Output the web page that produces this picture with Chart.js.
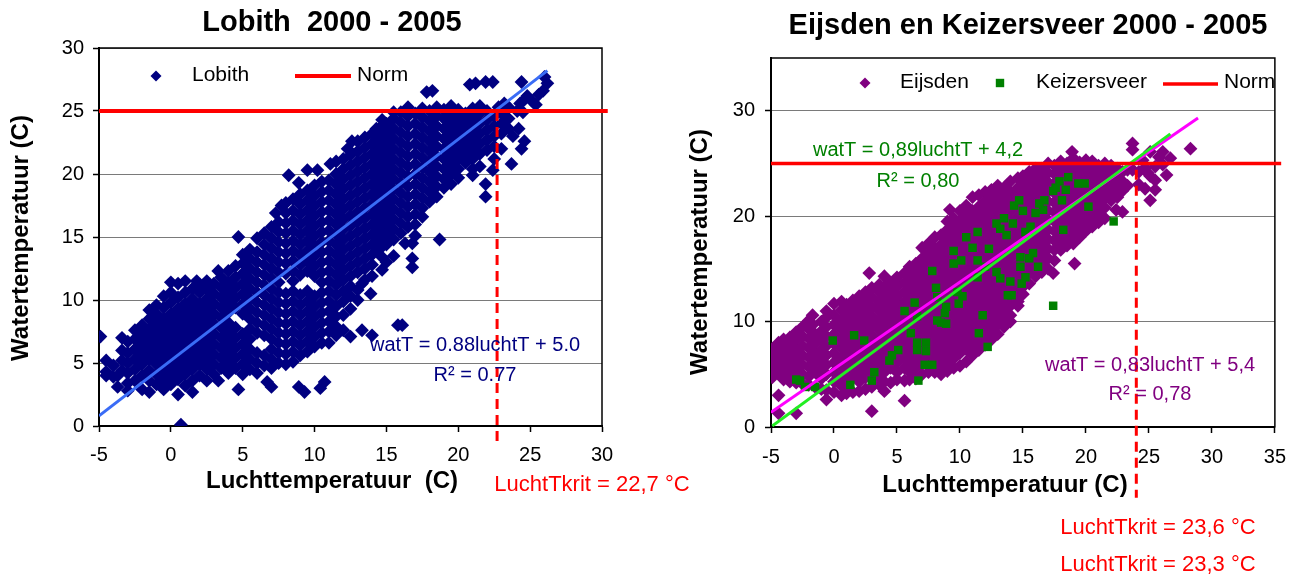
<!DOCTYPE html>
<html>
<head>
<meta charset="utf-8">
<title>Lobith / Eijsden en Keizersveer 2000 - 2005</title>
<script src="https://cdn.jsdelivr.net/npm/chart.js@4.4.1/dist/chart.umd.min.js"></script>
<style>
  html, body { margin: 0; padding: 0; background: #fff; }
  #wrap { position: relative; width: 1298px; height: 583px; overflow: hidden; }
  #lobithChart { position: absolute; left: 0; top: 0; }
  #maasChart { position: absolute; left: 649px; top: 0; }
</style>
</head>
<body>
<div id="wrap">
  <canvas id="lobithChart" width="720" height="583"></canvas>
  <canvas id="maasChart" width="649" height="583"></canvas>
</div>
<script>
// ---- axis ticks ----
const lobithXTicks = [-5, 0, 5, 10, 15, 20, 25, 30];
const lobithYTicks = [0, 5, 10, 15, 20, 25, 30];
const maasXTicks = [-5, 0, 5, 10, 15, 20, 25, 30, 35];
const maasYTicks = [0, 10, 20, 30];
const maasYMax = 35;

// ---- norm, trend lines and critical air temperature ----
const normTemp = 25;
const lobithNormX = [-5, 30.4];
const maasNormX = [-5, 35.5];
const lobithTrend = [[-5, 0.8], [26.2, 28.2]];
const eijsdenTrend = [[-5, 1.4], [28.9, 29.3]];
const keizersTrend = [[-4.9, 0.1], [26.7, 27.8]];
const lobithKrit = [[22.7, 25], [22.7, -1.5]];
const maasKrit = [[24.0, 24.4], [24.0, -6.7]];

// ---- Lobith: [luchtT, watT, watT, ...] columns ----
const lobith = [
  [-4.9, 7.1], [-4.5, 4.0, 4.3, 5.2], [-4.0, 3.9, 4.8], [-3.7, 3.1, 4.0],
  [-3.4, 4.4, 5.2, 6.0, 7.0],
  [-3.0, 2.8, 3.4, 4.2, 5.0, 5.8, 6.7],
  [-2.5, 3.6, 4.5, 5.3, 6.1, 6.9, 7.6],
  [-2.0, 2.9, 4.0, 4.9, 5.7, 6.5, 7.3, 8.0],
  [-1.5, 2.7, 3.6, 4.4, 5.3, 6.1, 6.9, 7.7, 8.5, 9.2],
  [-1.0, 3.3, 4.1, 4.9, 5.7, 6.5, 7.3, 8.1, 8.9, 9.6],
  [-0.5, 2.9, 3.7, 4.5, 5.3, 6.1, 6.9, 7.7, 8.5, 9.4, 10.3],
  [0.0, 3.3, 4.1, 4.9, 5.7, 6.5, 7.3, 8.1, 8.9, 9.8, 10.6, 11.4],
  [0.5, 2.5, 3.7, 4.5, 5.3, 6.1, 6.9, 7.7, 8.5, 9.3, 10.2, 11.3],
  [0.7, 0.1],
  [1.0, 3.2, 4.1, 4.9, 5.7, 6.5, 7.3, 8.1, 8.9, 9.7, 10.6, 11.5],
  [1.5, 2.7, 3.6, 4.5, 5.3, 6.1, 6.9, 7.7, 8.5, 9.3, 10.1, 10.9],
  [1.8, 11.5],
  [2.0, 4.0, 4.9, 5.7, 6.5, 7.3, 8.1, 8.9, 9.7, 10.6, 11.2],
  [2.5, 3.6, 4.5, 5.3, 6.1, 6.9, 7.7, 8.5, 9.3, 10.1, 10.9, 11.5],
  [3.0, 4.1, 4.9, 5.7, 6.5, 7.3, 8.1, 8.9, 9.7, 10.5, 11.3],
  [3.3, 3.6, 12.3],
  [3.5, 4.6, 5.4, 6.2, 7.0, 7.8, 8.6, 9.4, 10.2, 11.0, 11.8],
  [4.0, 4.2, 5.0, 5.8, 6.6, 7.4, 8.2, 9.0, 9.8, 10.6, 11.4, 12.3],
  [4.5, 4.6, 5.4, 6.2, 7.0, 7.8, 9.4, 10.2, 11.0, 11.8, 12.7],
  [4.7, 2.9, 15.0],
  [5.0, 4.1, 4.9, 5.7, 6.5, 7.3, 8.9, 9.7, 10.5, 11.3, 12.1, 12.9, 13.6],
  [5.5, 4.5, 5.3, 6.1, 6.9, 7.7, 8.5, 9.3, 10.1, 10.9, 11.7, 12.5, 13.3, 14.0],
  [6.0, 4.2, 5.0, 5.8, 7.4, 8.2, 9.0, 9.8, 10.6, 11.4, 12.2, 13.0, 13.8, 14.9],
  [6.5, 4.8, 5.6, 7.2, 8.0, 8.8, 9.6, 10.4, 11.2, 12.0, 12.8, 13.6, 14.4, 15.3],
  [6.7, 3.5],
  [7.0, 3.1, 4.6, 5.3, 6.1, 6.9, 7.7, 8.5, 9.3, 10.1, 10.9, 11.7, 12.5, 13.3, 14.1, 14.9, 15.8],
  [7.3, 16.9],
  [7.5, 5.0, 5.8, 6.6, 7.4, 8.2, 9.0, 9.8, 10.6, 11.4, 12.2, 13.0, 13.8, 14.6, 15.4, 16.2],
  [7.7, 17.5],
  [8.0, 4.9, 5.7, 6.5, 7.3, 8.1, 8.9, 9.7, 10.5, 12.1, 12.9, 13.7, 14.5, 15.3, 16.1, 16.9, 17.7],
  [8.2, 19.9],
  [8.5, 5.1, 5.9, 6.7, 7.5, 8.3, 9.1, 9.9, 10.7, 11.5, 12.3, 13.1, 13.9, 14.7, 15.5, 16.3, 17.1, 18.0],
  [8.9, 3.1, 19.3],
  [9.0, 5.6, 6.4, 7.2, 8.0, 8.8, 9.6, 10.4, 12.0, 12.8, 13.6, 14.4, 15.2, 16.0, 16.8, 17.6, 18.4],
  [9.3, 2.7],
  [9.5, 5.9, 6.7, 7.5, 8.3, 9.1, 9.9, 10.7, 12.3, 13.1, 13.9, 14.7, 15.5, 16.3, 17.1, 17.9, 18.7, 20.3],
  [10.0, 6.3, 7.1, 7.9, 8.7, 9.5, 10.3, 11.9, 12.7, 13.5, 14.3, 15.1, 15.9, 16.7, 17.5, 18.3, 19.1],
  [10.2, 20.3], [10.4, 3.0],
  [10.5, 6.6, 7.4, 8.2, 9.0, 9.8, 10.6, 11.4, 12.2, 13.0, 13.8, 14.6, 15.4, 16.2, 17.0, 17.8, 18.6, 19.4],
  [10.7, 3.5],
  [11.0, 6.6, 7.5, 8.3, 9.1, 9.9, 10.7, 11.5, 12.3, 13.1, 13.9, 14.7, 15.5, 16.3, 17.1, 17.9, 18.7, 19.5],
  [11.1, 20.8],
  [11.5, 7.2, 7.9, 8.7, 9.5, 10.4, 11.2, 12.0, 12.8, 13.6, 14.4, 15.2, 16.0, 16.8, 17.6, 18.4, 19.2, 20.0, 21.0],
  [12.0, 7.6, 8.8, 9.9, 10.7, 11.6, 12.4, 13.2, 14.0, 14.8, 15.6, 16.4, 17.2, 18.0, 18.8, 19.6, 20.4, 21.2],
  [12.3, 22.0],
  [12.5, 7.1, 9.3, 10.3, 11.1, 11.9, 12.7, 13.5, 14.3, 15.1, 15.9, 16.7, 17.5, 18.3, 19.1, 19.9, 20.7, 21.5],
  [12.6, 22.6],
  [13.0, 10.0, 10.8, 12.2, 13.0, 13.8, 14.6, 15.4, 16.2, 17.0, 17.8, 18.6, 19.4, 20.2, 21.0, 21.8, 22.6],
  [13.3, 7.6, 11.3],
  [13.5, 11.6, 12.5, 13.3, 14.1, 14.9, 15.7, 16.5, 17.3, 18.1, 18.9, 19.7, 20.5, 21.3, 22.1, 22.9],
  [13.9, 10.5],
  [14.0, 7.2, 11.9, 12.8, 13.6, 14.4, 15.2, 16.0, 16.8, 17.6, 18.4, 19.2, 20.0, 20.8, 21.6, 22.4, 23.2],
  [14.3, 23.6],
  [14.5, 14.0, 14.8, 15.6, 16.4, 17.2, 18.0, 18.8, 19.6, 20.4, 21.2, 22.0, 22.8, 23.6],
  [14.7, 12.4, 13.4, 24.3],
  [15.0, 13.0, 14.4, 15.2, 16.0, 16.8, 17.6, 18.4, 19.2, 20.0, 20.8, 21.6, 22.4, 23.2, 24.0],
  [15.5, 13.5, 14.8, 15.6, 16.4, 17.2, 18.0, 18.8, 19.6, 20.4, 21.2, 22.0, 22.8, 23.6, 24.4, 24.9],
  [15.8, 8.0],
  [16.0, 15.3, 16.1, 16.9, 17.7, 18.5, 19.3, 20.1, 20.9, 21.7, 22.5, 23.3, 24.1, 24.9],
  [16.1, 8.0], [16.3, 14.5],
  [16.5, 15.8, 16.6, 17.4, 18.2, 19.0, 19.8, 20.6, 21.4, 22.2, 23.0, 23.8, 24.6, 25.3],
  [16.8, 12.6, 13.3, 14.5],
  [17.0, 15.1, 16.0, 16.8, 17.6, 18.4, 19.2, 20.0, 20.8, 21.6, 22.4, 23.2, 24.0, 24.8],
  [17.5, 16.6, 17.3, 18.1, 18.9, 19.7, 20.5, 21.3, 22.1, 22.9, 23.7, 24.5, 25.2],
  [17.8, 26.5],
  [18.0, 17.8, 18.6, 19.4, 20.2, 21.0, 21.8, 22.6, 23.4, 24.2, 25.0],
  [18.2, 26.6],
  [18.5, 18.2, 19.0, 19.8, 20.6, 21.4, 22.2, 23.0, 23.8, 24.6, 25.3],
  [18.7, 14.8],
  [19.0, 18.9, 19.6, 20.4, 21.2, 22.0, 22.8, 23.6, 24.4, 25.1],
  [19.5, 19.2, 20.0, 20.8, 21.6, 22.4, 23.2, 24.0, 24.8, 25.4],
  [20.0, 19.7, 20.4, 21.2, 22.0, 22.8, 23.6, 24.4, 25.1],
  [20.5, 20.9, 21.6, 22.4, 23.2, 24.0, 24.8],
  [20.8, 27.1],
  [21.0, 19.9, 20.4, 21.2, 22.0, 22.8, 23.6, 24.4, 25.2],
  [21.2, 27.2],
  [21.5, 20.6, 21.6, 22.4, 23.2, 24.0, 24.8, 25.4],
  [21.9, 18.2, 19.2, 27.3],
  [22.0, 21.9, 22.7, 23.5, 24.3, 25.0],
  [22.4, 20.3, 27.3],
  [22.5, 21.2, 22.2, 23.0, 23.8, 24.6],
  [22.8, 25.3],
  [23.0, 22.0, 23.2, 24.0, 24.8],
  [23.2, 25.6], [23.5, 23.6, 24.4, 25.3], [23.7, 20.8], [23.8, 23.0],
  [24.1, 25.0], [24.2, 23.6], [24.3, 25.6], [24.4, 22.0, 27.3], [24.5, 24.9],
  [24.6, 22.6, 25.9], [24.8, 26.2], [25.2, 25.7], [25.4, 25.5], [25.6, 26.3],
  [25.9, 26.6], [26.0, 27.7], [26.2, 27.2]
];

// ---- Eijsden: [luchtT, watT, watT, ...] columns ----
const eijsden = [
  [-4.9, 4.7, 5.6, 6.5, 7.4],
  [-4.4, 1.3, 3.0, 5.1, 6.0, 6.9, 8.0],
  [-4.0, 4.5, 5.5, 6.4, 7.3, 8.3],
  [-3.5, 4.3, 5.0, 5.9, 6.8, 7.7, 8.5],
  [-3.0, 1.3, 4.2, 5.4, 6.3, 7.2, 8.3, 9.0],
  [-2.5, 4.1, 5.0, 5.9, 6.8, 7.7, 8.6, 9.5],
  [-2.0, 4.0, 4.8, 5.7, 6.6, 7.5, 8.4, 9.3, 10.1],
  [-1.7, 9.7, 10.6],
  [-1.5, 3.8, 5.2, 6.1, 7.0, 7.9, 8.8],
  [-1.0, 3.6, 4.6, 5.5, 6.4, 7.3, 8.2, 9.1, 10.0],
  [-0.6, 2.6, 3.5, 5.0, 5.9, 6.8, 7.7, 8.6, 9.5, 10.4, 11.0],
  [0.0, 3.3, 4.3, 5.2, 6.1, 7.0, 7.9, 8.8, 9.7, 10.6, 11.7],
  [0.6, 3.0, 3.9, 4.8, 5.7, 6.6, 7.5, 8.4, 9.3, 10.2, 11.1, 11.9],
  [1.0, 3.2, 4.4, 5.3, 6.2, 7.1, 8.0, 8.9, 9.8, 10.7, 11.6],
  [1.5, 3.3, 4.8, 5.7, 6.6, 7.5, 8.4, 9.3, 10.2, 11.1, 12.0],
  [2.0, 3.4, 4.3, 5.2, 6.1, 7.0, 7.9, 8.8, 9.7, 10.6, 11.5, 12.4],
  [2.5, 3.6, 4.7, 5.6, 6.5, 7.4, 8.3, 9.2, 10.1, 11.0, 11.9, 12.8],
  [2.8, 14.6],
  [3.0, 1.5, 3.8, 5.1, 6.0, 6.9, 7.8, 8.7, 9.6, 10.5, 11.4, 12.3, 13.2],
  [3.6, 4.0, 4.7, 5.6, 6.5, 7.4, 8.3, 9.2, 10.1, 11.0, 11.9, 12.8, 13.5],
  [4.0, 3.4, 4.3, 5.2, 6.1, 7.0, 7.9, 8.8, 9.7, 10.6, 11.5, 12.4, 13.3, 14.3],
  [4.5, 4.2, 5.6, 6.5, 7.4, 8.3, 9.2, 10.1, 11.0, 11.9, 12.8, 13.7],
  [5.0, 4.5, 5.2, 6.1, 7.0, 7.9, 8.8, 9.7, 10.6, 11.5, 12.4, 13.3, 14.2],
  [5.6, 2.5, 4.4, 5.6, 6.5, 7.4, 8.3, 9.2, 10.1, 11.0, 11.9, 12.8, 13.7, 14.6],
  [6.0, 4.5, 5.2, 6.1, 7.0, 7.9, 8.8, 9.7, 10.6, 11.5, 12.4, 13.3, 14.2, 15.2],
  [6.5, 4.6, 5.6, 6.5, 7.4, 8.3, 9.2, 10.1, 11.0, 11.9, 12.8, 13.7, 14.6, 15.5],
  [7.0, 5.0, 6.1, 7.0, 7.9, 8.8, 9.7, 10.6, 11.5, 12.4, 13.3, 14.2, 15.1, 16.0, 17.0],
  [7.5, 5.2, 6.5, 7.4, 8.3, 9.2, 10.1, 11.0, 11.9, 12.8, 13.7, 14.6, 15.5, 16.4, 17.4],
  [8.0, 5.2, 6.1, 7.0, 7.9, 8.8, 9.7, 10.6, 11.5, 12.4, 13.3, 14.2, 15.1, 16.0, 16.9, 18.0],
  [8.5, 5.0, 5.6, 6.5, 7.4, 8.3, 9.2, 10.1, 11.0, 11.9, 12.8, 13.7, 14.6, 15.5, 16.4, 17.3, 18.2],
  [9.0, 5.3, 6.1, 7.0, 7.9, 8.8, 9.7, 10.6, 11.5, 12.4, 13.3, 14.2, 15.1, 16.0, 16.9, 17.8, 18.7, 19.5],
  [9.2, 20.6],
  [9.5, 5.6, 6.5, 7.4, 8.3, 9.2, 10.1, 11.0, 11.9, 12.8, 13.7, 14.6, 15.5, 16.4, 17.3, 18.2, 19.1, 19.8],
  [10.0, 5.8, 7.0, 7.9, 8.8, 9.7, 10.6, 11.5, 12.4, 13.3, 14.2, 15.1, 16.0, 16.9, 17.8, 18.7, 19.6, 20.5],
  [10.5, 6.2, 7.4, 8.3, 9.2, 10.1, 11.0, 11.9, 12.8, 13.7, 14.6, 15.5, 16.4, 17.3, 18.2, 19.1, 20.0, 21.0],
  [11.0, 6.8, 7.9, 8.8, 9.7, 10.6, 11.5, 12.4, 13.3, 14.2, 15.1, 16.0, 16.9, 17.8, 18.7, 19.6, 20.5, 21.8],
  [11.5, 7.3, 8.3, 9.2, 10.1, 11.0, 11.9, 12.8, 13.7, 14.6, 15.5, 16.4, 17.3, 18.2, 19.1, 20.0, 20.9, 22.0],
  [12.0, 7.8, 8.8, 9.7, 10.6, 11.5, 12.4, 13.3, 14.2, 15.1, 16.0, 16.9, 17.8, 18.7, 19.6, 20.5, 21.4, 22.3],
  [12.5, 8.3, 9.2, 10.1, 11.0, 11.9, 12.8, 13.7, 14.6, 15.5, 16.4, 17.3, 18.2, 19.1, 20.0, 20.9, 21.8, 22.5],
  [13.0, 8.8, 9.7, 10.6, 11.5, 12.4, 13.3, 14.2, 15.1, 16.0, 16.9, 17.8, 18.7, 19.6, 20.5, 21.4, 22.3, 22.9],
  [13.5, 9.5, 10.1, 11.0, 11.9, 12.8, 13.7, 14.6, 15.5, 16.4, 17.3, 18.2, 19.1, 20.0, 20.9, 21.8, 22.7],
  [14.0, 10.0, 10.6, 11.5, 12.4, 13.3, 14.2, 15.1, 16.0, 16.9, 17.8, 18.7, 19.6, 20.5, 21.4, 22.3, 23.3],
  [14.6, 11.5, 11.9, 12.8, 13.7, 14.6, 15.5, 16.4, 17.3, 18.2, 19.1, 20.0, 20.9, 21.8, 22.7, 23.6],
  [15.0, 12.6, 13.3, 14.2, 15.1, 16.0, 16.9, 17.8, 18.7, 19.6, 20.5, 21.4, 22.3, 23.2, 23.8],
  [15.5, 13.6, 14.6, 15.5, 16.4, 17.3, 18.2, 19.1, 20.0, 20.9, 21.8, 22.7, 23.6, 24.2],
  [16.0, 14.3, 15.1, 16.0, 16.9, 17.8, 18.7, 19.6, 20.5, 21.4, 22.3, 23.2, 24.1, 24.5],
  [16.5, 14.7, 15.5, 16.4, 17.3, 18.2, 19.1, 20.0, 20.9, 21.8, 22.7, 23.6, 24.5],
  [17.0, 15.0, 16.0, 16.9, 17.8, 18.7, 19.6, 20.5, 21.4, 22.3, 23.2, 24.1, 25.0],
  [17.4, 14.6],
  [17.5, 15.8, 16.8, 17.7, 18.6, 19.5, 20.4, 21.3, 22.2, 23.1, 24.0, 24.8],
  [18.0, 16.8, 17.3, 18.2, 19.1, 20.0, 20.9, 21.8, 22.7, 23.6, 24.5, 25.2],
  [18.5, 17.2, 17.8, 18.7, 19.6, 20.5, 21.4, 22.3, 23.2, 24.1, 25.0],
  [18.9, 26.1],
  [19.0, 17.4, 18.3, 19.2, 20.1, 21.0, 21.9, 22.8, 23.7, 24.6, 25.5],
  [19.1, 15.5],
  [19.5, 18.0, 18.8, 19.7, 20.6, 21.5, 22.4, 23.3, 24.2, 25.1],
  [20.0, 18.6, 19.3, 20.2, 21.1, 22.0, 22.9, 23.8, 24.7, 25.3],
  [20.5, 19.0, 19.8, 20.7, 21.6, 22.5, 23.4, 24.3, 25.2],
  [21.0, 19.4, 20.3, 21.2, 22.1, 23.0, 23.9, 24.8],
  [21.5, 19.8, 20.8, 21.7, 22.6, 23.5, 24.4, 25.0],
  [22.0, 21.5, 22.2, 23.1, 24.0, 24.8],
  [22.4, 20.6],
  [22.5, 21.8, 22.7, 23.6, 24.5],
  [22.9, 20.4, 22.4, 23.3, 24.2],
  [23.3, 22.9, 24.4], [23.7, 24.4, 26.3, 26.9], [24.2, 23.0, 24.2], [24.5, 25.3],
  [24.7, 22.6, 24.6], [24.9, 24.1], [25.1, 21.5, 23.8, 26.1], [25.5, 22.5, 23.4, 24.7],
  [25.8, 25.6], [26.1, 24.9, 26.1], [26.4, 23.9], [26.7, 25.5], [28.3, 26.4]
];

// ---- Keizersveer: [luchtT, watT] pairs ----
const keizersveer = [
  [-3.0, 4.5], [-2.7, 4.4], [-2.3, 3.8], [-1.5, 3.8], [-0.1, 8.2], [1.3, 4.0], [1.6, 8.7], [2.4, 8.2],
  [3.0, 4.4], [3.2, 5.2], [4.4, 6.3], [4.6, 6.8], [5.1, 7.3], [5.6, 11.0], [6.1, 8.9], [6.4, 11.8],
  [6.6, 10.5], [6.6, 8.0], [6.6, 7.3], [6.7, 4.4], [7.3, 8.0], [7.3, 7.2], [7.2, 5.9], [7.8, 5.9],
  [7.8, 14.8], [8.1, 13.2], [8.2, 12.3], [8.2, 10.1], [8.5, 9.9], [8.8, 10.8], [8.9, 11.4], [8.9, 9.8],
  [9.5, 16.7], [9.5, 15.5], [9.8, 12.8], [9.9, 11.7], [10.1, 15.8], [10.2, 12.4], [10.5, 18.0], [11.0, 17.0],
  [11.4, 15.8], [11.4, 14.2], [11.4, 18.5], [11.5, 8.9], [11.8, 10.6], [12.0, 15.2], [12.2, 7.6], [12.3, 16.9],
  [12.9, 14.7], [12.9, 19.3], [13.2, 18.8], [13.2, 14.1], [13.5, 19.8], [13.7, 18.2], [13.8, 12.5], [14.0, 13.8],
  [14.1, 12.5], [14.2, 19.3], [14.3, 21.0], [14.7, 21.5], [14.8, 16.1], [14.8, 15.2], [14.9, 13.6], [15.0, 20.5],
  [15.2, 14.2], [15.2, 18.5], [15.5, 16.0], [15.6, 19.0], [15.8, 16.5], [16.0, 20.3], [16.2, 15.2], [16.3, 21.2],
  [16.7, 21.5], [16.6, 20.6], [17.4, 11.5], [17.4, 22.4], [17.6, 22.7], [17.9, 23.3], [18.1, 21.5], [18.2, 18.7],
  [18.4, 22.5], [18.6, 23.7], [19.4, 23.1], [19.9, 23.1], [20.2, 20.9], [22.2, 19.5]
];

const FONT = '"Liberation Sans", Arial, Helvetica, sans-serif';

function columnsToPoints(cols) {
    const pts = [];
    cols.forEach(col => {
        for (let i = 1; i < col.length; i++) {
            pts.push({ x: col[0], y: col[i] });
        }
    });
    return pts;
}

function pairsToPoints(pairs) {
    return pairs.map(p => ({ x: p[0], y: p[1] }));
}

// black frame round the plot area
const framePlugin = {
    id: 'frame',
    beforeDatasetsDraw(chart) {
        const { ctx, chartArea: a } = chart;
        ctx.save();
        ctx.strokeStyle = '#000';
        ctx.lineWidth = 1.5;
        ctx.strokeRect(a.left, a.top, a.right - a.left, a.bottom - a.top);
        ctx.restore();
    }
};

// titles, legend and equation labels
const textPlugin = {
    id: 'texts',
    afterDraw(chart, args, opts) {
        const ctx = chart.ctx;
        (opts.marks || []).forEach(m => {
            ctx.save();
            ctx.fillStyle = m.color;
            ctx.strokeStyle = m.color;
            if (m.type === 'diamond') {
                ctx.beginPath();
                ctx.moveTo(m.x, m.y - m.r);
                ctx.lineTo(m.x + m.r, m.y);
                ctx.lineTo(m.x, m.y + m.r);
                ctx.lineTo(m.x - m.r, m.y);
                ctx.closePath();
                ctx.fill();
            } else if (m.type === 'square') {
                ctx.fillRect(m.x - m.r, m.y - m.r, m.r * 2, m.r * 2);
            } else if (m.type === 'line') {
                ctx.lineWidth = m.w;
                ctx.beginPath();
                ctx.moveTo(m.x, m.y);
                ctx.lineTo(m.x2, m.y);
                ctx.stroke();
            }
            ctx.restore();
        });
        (opts.items || []).forEach(t => {
            ctx.save();
            ctx.font = t.font;
            ctx.fillStyle = t.color || '#000';
            ctx.textAlign = t.align || 'center';
            ctx.textBaseline = 'middle';
            ctx.translate(t.x, t.y);
            if (t.rotate) ctx.rotate(t.rotate);
            ctx.fillText(t.text, 0, 0);
            ctx.restore();
        });
    }
};

function makeScales(xMin, xMax, xTicks, yMax, yTicks, xPad, yPad) {
    const tickFont = { family: FONT, size: 20 };
    return {
        x: {
            type: 'linear',
            min: xMin,
            max: xMax,
            afterBuildTicks: axis => { axis.ticks = xTicks.map(v => ({ value: v })); },
            afterFit: axis => { axis.height = 40; },
            grid: { drawOnChartArea: false, drawTicks: true, tickLength: 6, tickColor: '#000', tickWidth: 1.5 },
            border: { display: true, color: '#000', width: 2 },
            ticks: { color: '#000', font: tickFont, padding: xPad, maxRotation: 0, autoSkip: false }
        },
        y: {
            type: 'linear',
            min: 0,
            max: yMax,
            afterBuildTicks: axis => { axis.ticks = yTicks.map(v => ({ value: v })); },
            afterFit: axis => { axis.width = 60; },
            grid: {
                color: c => (c.tick && c.tick.value === 0) ? 'rgba(0,0,0,0)' : '#7a7a7a',
                lineWidth: 1,
                drawTicks: true,
                tickLength: 6,
                tickColor: '#000',
                tickWidth: 1.5
            },
            border: { display: true, color: '#000', width: 2 },
            ticks: { color: '#000', font: tickFont, padding: yPad }
        }
    };
}

function lineSet(label, pts, color, width, order, extra) {
    return Object.assign({
        label: label,
        data: pts,
        showLine: true,
        fill: false,
        borderColor: color,
        borderWidth: width,
        pointRadius: 0,
        order: order
    }, extra || {});
}

function pointSet(label, pts, style, radius, color, order) {
    return {
        label: label,
        data: pts,
        showLine: false,
        pointStyle: style,
        pointRadius: radius,
        pointBackgroundColor: color,
        pointBorderColor: color,
        pointBorderWidth: 0,
        order: order
    };
}

document.addEventListener('DOMContentLoaded', function() {
    // Lobith chart
    const lobithEl = document.getElementById('lobithChart');
    new Chart(lobithEl, {
        type: 'scatter',
        data: {
            datasets: [
                lineSet('Norm', lobithNormX.map(x => ({ x: x, y: normTemp })), '#ff0000', 4, 0, { clip: false }),
                lineSet('LuchtTkrit', pairsToPoints(lobithKrit), '#ff0000', 3, 1, { clip: false, borderDash: [10, 6] }),
                lineSet('Trend Lobith', pairsToPoints(lobithTrend), '#3a6cf6', 3, 2),
                pointSet('Lobith', columnsToPoints(lobith), 'rectRot', 6.9, '#000080', 10)
            ]
        },
        options: {
            responsive: false,
            animation: false,
            devicePixelRatio: 1,
            events: [],
            layout: { padding: { left: 39, right: 118, top: 48, bottom: 117 } },
            scales: makeScales(-5, 30, lobithXTicks, 30, lobithYTicks, 11, 9),
            plugins: {
                legend: { display: false },
                tooltip: { enabled: false },
                texts: {
                    marks: [
                        { type: 'diamond', x: 156, y: 76, r: 5.5, color: '#000080' },
                        { type: 'line', x: 295, x2: 351, y: 76, w: 4, color: '#ff0000' }
                    ],
                    items: [
                        { text: 'Lobith  2000 - 2005', x: 332, y: 23, font: 'bold 29px ' + FONT },
                        { text: 'Luchttemperatuur  (C)', x: 332, y: 481, font: 'bold 24px ' + FONT },
                        { text: 'Watertemperatuur (C)', x: 21, y: 238, rotate: -Math.PI / 2, font: 'bold 24px ' + FONT },
                        { text: 'Lobith', x: 192, y: 75, align: 'left', font: '21px ' + FONT },
                        { text: 'Norm', x: 357, y: 75, align: 'left', font: '21px ' + FONT },
                        { text: 'watT = 0.88luchtT + 5.0', x: 475, y: 345, color: '#000080', font: '20px ' + FONT },
                        { text: 'R² = 0.77', x: 475, y: 375, color: '#000080', font: '20px ' + FONT },
                        { text: 'LuchtTkrit = 22,7 °C', x: 592, y: 485, color: '#ff0000', font: '22px ' + FONT }
                    ]
                }
            }
        },
        plugins: [framePlugin, textPlugin]
    });

    // Eijsden en Keizersveer chart
    const maasEl = document.getElementById('maasChart');
    new Chart(maasEl, {
        type: 'scatter',
        data: {
            datasets: [
                lineSet('Norm', maasNormX.map(x => ({ x: x, y: normTemp })), '#ff0000', 3.5, 0, { clip: false }),
                lineSet('LuchtTkrit', pairsToPoints(maasKrit), '#ff0000', 3, 1, { clip: false, borderDash: [10, 6] }),
                lineSet('Trend Keizersveer', pairsToPoints(keizersTrend), '#22ee22', 3, 2),
                lineSet('Trend Eijsden', pairsToPoints(eijsdenTrend), '#ff00ff', 3, 3),
                pointSet('Keizersveer', pairsToPoints(keizersveer), 'rect', 6, '#008000', 10),
                pointSet('Eijsden', columnsToPoints(eijsden), 'rectRot', 6.9, '#800080', 11)
            ]
        },
        options: {
            responsive: false,
            animation: false,
            devicePixelRatio: 1,
            events: [],
            layout: { padding: { left: 62, right: 21, top: 58, bottom: 116 } },
            scales: makeScales(-5, 35, maasXTicks, maasYMax, maasYTicks, 12, 10),
            plugins: {
                legend: { display: false },
                tooltip: { enabled: false },
                texts: {
                    marks: [
                        { type: 'diamond', x: 216, y: 83, r: 5.5, color: '#800080' },
                        { type: 'square', x: 351, y: 83, r: 4.2, color: '#008000' },
                        { type: 'line', x: 514, x2: 569, y: 84, w: 3.5, color: '#ff0000' }
                    ],
                    items: [
                        { text: 'Eijsden en Keizersveer 2000 - 2005', x: 379, y: 26, font: 'bold 29px ' + FONT },
                        { text: 'Luchttemperatuur (C)', x: 356, y: 485, font: 'bold 24px ' + FONT },
                        { text: 'Watertemperatuur (C)', x: 51, y: 252, rotate: -Math.PI / 2, font: 'bold 24px ' + FONT },
                        { text: 'Eijsden', x: 251, y: 82.5, align: 'left', font: '21px ' + FONT },
                        { text: 'Keizersveer', x: 387, y: 82.5, align: 'left', font: '21px ' + FONT },
                        { text: 'Norm', x: 575, y: 82.5, align: 'left', font: '21px ' + FONT },
                        { text: 'watT = 0,89luchtT + 4,2', x: 269, y: 150.5, color: '#008000', font: '20px ' + FONT },
                        { text: 'R² = 0,80', x: 269, y: 181, color: '#008000', font: '20px ' + FONT },
                        { text: 'watT = 0,83luchtT + 5,4', x: 501, y: 365, color: '#800080', font: '20px ' + FONT },
                        { text: 'R² = 0,78', x: 501, y: 394.5, color: '#800080', font: '20px ' + FONT },
                        { text: 'LuchtTkrit = 23,6 °C', x: 509, y: 527.5, color: '#ff0000', font: '22px ' + FONT },
                        { text: 'LuchtTkrit = 23,3 °C', x: 509, y: 565, color: '#ff0000', font: '22px ' + FONT }
                    ]
                }
            }
        },
        plugins: [framePlugin, textPlugin]
    });
});
</script>
</body>
</html>
